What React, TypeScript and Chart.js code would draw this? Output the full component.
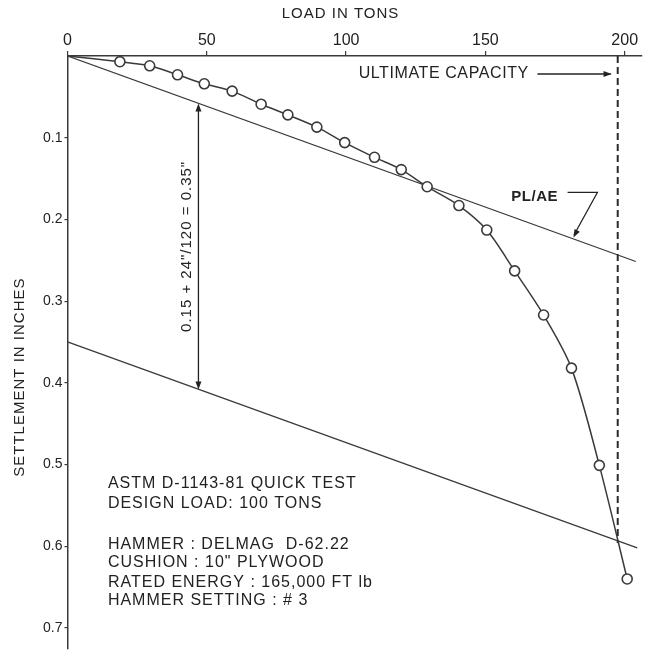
import React, { useEffect, useRef } from 'react';
import { Chart, registerables } from 'chart.js';

Chart.register(...registerables);

// ---- data ----
const loads = [18.8, 29.5, 39.5, 49.1, 59.1, 69.5, 79.1, 89.5, 99.5, 110.2, 119.8, 129.1, 140.5, 150.5, 160.5, 170.9, 180.9, 190.9, 200.9];
const settlements = [0.007, 0.012, 0.023, 0.034, 0.043, 0.059, 0.072, 0.087, 0.106, 0.124, 0.139, 0.16, 0.183, 0.213, 0.263, 0.317, 0.382, 0.501, 0.64];
const xTicks = [0, 50, 100, 150, 200];
const yTicks = [0.1, 0.2, 0.3, 0.4, 0.5, 0.6, 0.7];
const elasticLoads = [0, 204];
const elasticSettlements = [0, 0.2515];
const offsetLoads = [0, 204.5];
const offsetSettlements = [0.35, 0.602];
const ultimateLoads = [197.5, 197.5];
const ultimateSettlements = [0, 0.596];
const xTitle = 'LOAD IN TONS';
const yTitle = 'SETTLEMENT IN INCHES';
const noteLines = [
  'ASTM D-1143-81 QUICK TEST',
  'DESIGN LOAD: 100 TONS',
  '',
  'HAMMER : DELMAG  D-62.22',
  'CUSHION : 10" PLYWOOD',
  'RATED ENERGY : 165,000 FT lb',
  'HAMMER SETTING : # 3',
];
const ultimateLabel = 'ULTIMATE CAPACITY';
const elasticLabel = 'PL/AE';
const offsetLabel = '0.15 + 24"/120 = 0.35"';

const INK = '#222222';
const LINE = '#3a3a3a';
const FONT = '"Liberation Sans", Arial, sans-serif';

function arrowHead(ctx: CanvasRenderingContext2D, x0: number, y0: number, x1: number, y1: number, len = 8, half = 3) {
  const a = Math.atan2(y1 - y0, x1 - x0);
  ctx.beginPath();
  ctx.moveTo(x1, y1);
  ctx.lineTo(x1 - len * Math.cos(a) + half * Math.sin(a), y1 - len * Math.sin(a) - half * Math.cos(a));
  ctx.lineTo(x1 - len * Math.cos(a) - half * Math.sin(a), y1 - len * Math.sin(a) + half * Math.cos(a));
  ctx.closePath();
  ctx.fill();
}

const annotate = {
  id: 'annotate',
  afterDatasetsDraw(chart: any) {
    const { ctx, scales } = chart;
    const px = (v: number) => scales.x.getPixelForValue(v);
    const py = (v: number) => scales.y.getPixelForValue(v);
    ctx.save();
    ctx.fillStyle = INK;
    ctx.strokeStyle = INK;
    ctx.lineWidth = 1.3;
    ctx.textBaseline = 'middle';

    // axis titles
    ctx.font = `15px ${FONT}`;
    ctx.letterSpacing = '1px';
    ctx.textAlign = 'center';
    ctx.fillText(xTitle, px(98), 14);
    ctx.save();
    ctx.translate(20, py(0.393));
    ctx.rotate(-Math.PI / 2);
    ctx.fillText(yTitle, 0, 0);
    ctx.restore();

    // notes block
    ctx.font = `16px ${FONT}`;
    ctx.letterSpacing = '1px';
    ctx.textAlign = 'left';
    const noteY = [0.523, 0.548, 0, 0.598, 0.62, 0.644, 0.667];
    noteLines.forEach((t, i) => {
      if (t) ctx.fillText(t, px(14.5), py(noteY[i]));
    });

    // ultimate capacity label + arrow
    ctx.font = `16px ${FONT}`;
    ctx.letterSpacing = '0.6px';
    ctx.fillText(ultimateLabel, px(104.5), py(0.022));
    ctx.beginPath();
    ctx.moveTo(px(168.7), py(0.022));
    ctx.lineTo(px(195), py(0.022));
    ctx.stroke();
    arrowHead(ctx, px(168.7), py(0.022), px(195.3), py(0.022));

    // PL/AE label + leader
    ctx.font = `bold 15px ${FONT}`;
    ctx.letterSpacing = '0.5px';
    ctx.textAlign = 'center';
    ctx.fillText(elasticLabel, px(167.7), py(0.172));
    ctx.beginPath();
    ctx.moveTo(px(179.5), py(0.167));
    ctx.lineTo(px(190.2), py(0.167));
    ctx.lineTo(px(181.8), py(0.219));
    ctx.stroke();
    arrowHead(ctx, px(190.2), py(0.167), px(181.6), py(0.222));

    // offset dimension arrow
    const ax = px(47);
    const yTop = py(0.058);
    const yBot = py(0.408);
    ctx.beginPath();
    ctx.moveTo(ax, yTop + 4);
    ctx.lineTo(ax, yBot - 4);
    ctx.stroke();
    arrowHead(ctx, ax, yBot, ax, yTop);
    arrowHead(ctx, ax, yTop, ax, yBot);
    ctx.save();
    ctx.translate(px(43), py(0.233));
    ctx.rotate(-Math.PI / 2);
    ctx.font = `15px ${FONT}`;
    ctx.letterSpacing = '1px';
    ctx.textAlign = 'center';
    ctx.fillText(offsetLabel, 0, 0);
    ctx.restore();

    ctx.restore();
  },
};

export default function App() {
  const ref = useRef<HTMLCanvasElement | null>(null);

  useEffect(() => {
    if (!ref.current) return;
    const curve = [{ x: 0, y: 0 }, ...loads.map((l, i) => ({ x: l, y: settlements[i] }))];
    const radii = curve.map((_, i) => (i === 0 ? 0 : 5));
    const chart = new Chart(ref.current, {
      type: 'scatter',
      data: {
        datasets: [
          {
            label: 'Load test',
            data: curve,
            showLine: true,
            tension: 0.3,
            borderColor: LINE,
            borderWidth: 1.5,
            pointRadius: radii,
            pointBackgroundColor: '#ffffff',
            pointBorderColor: LINE,
            pointBorderWidth: 1.6,
            order: 0,
          } as any,
          {
            label: 'PL/AE',
            data: elasticLoads.map((l, i) => ({ x: l, y: elasticSettlements[i] })),
            showLine: true,
            borderColor: LINE,
            borderWidth: 1.3,
            pointRadius: 0,
            order: 1,
          },
          {
            label: 'Offset',
            data: offsetLoads.map((l, i) => ({ x: l, y: offsetSettlements[i] })),
            showLine: true,
            borderColor: LINE,
            borderWidth: 1.3,
            pointRadius: 0,
            order: 1,
          },
          {
            label: 'Ultimate',
            data: ultimateLoads.map((l, i) => ({ x: l, y: ultimateSettlements[i] })),
            showLine: true,
            borderColor: '#2a2a2a',
            borderWidth: 2,
            borderDash: [7, 4],
            pointRadius: 0,
            order: 1,
          },
        ],
      },
      options: {
        responsive: false,
        animation: false,
        devicePixelRatio: 1,
        layout: { padding: { top: 0, left: 0, right: 4, bottom: 0.5 } },
        plugins: { legend: { display: false }, tooltip: { enabled: false }, title: { display: false } },
        scales: {
          x: {
            type: 'linear',
            position: 'top',
            min: 0,
            max: 206,
            afterBuildTicks: (s: any) => {
              s.ticks = xTicks.map((v) => ({ value: v }));
            },
            afterFit: (s: any) => {
              s.height = 56;
              s.paddingLeft = 0;
              s.paddingRight = 0;
            },
            ticks: {
              color: INK,
              font: { family: FONT, size: 16 },
              padding: 1,
              maxRotation: 0,
              autoSkip: false,
              callback: (v: any) => String(v),
            },
            grid: { drawOnChartArea: false, tickLength: 5, color: LINE, lineWidth: 1.2 },
            border: { display: true, color: LINE, width: 1.5 },
          },
          y: {
            type: 'linear',
            reverse: true,
            min: 0,
            max: 0.725,
            afterBuildTicks: (s: any) => {
              s.ticks = yTicks.map((v) => ({ value: v }));
            },
            afterFit: (s: any) => {
              s.width = 67.5;
              s.paddingTop = 0;
              s.paddingBottom = 0;
            },
            ticks: {
              color: INK,
              font: { family: FONT, size: 14 },
              padding: 2,
              autoSkip: false,
              callback: (v: any) => Number(v).toFixed(1),
            },
            grid: { drawOnChartArea: false, tickLength: 3, color: LINE, lineWidth: 1.2 },
            border: { display: true, color: LINE, width: 1.5 },
          },
        },
      },
      plugins: [annotate],
    });
    return () => chart.destroy();
  }, []);

  return (
    <div style={{ position: 'absolute', left: 0, top: 0, width: 648, height: 655, background: '#ffffff' }}>
      <canvas ref={ref} width={648} height={655} style={{ display: 'block', width: 648, height: 655 }} />
    </div>
  );
}
